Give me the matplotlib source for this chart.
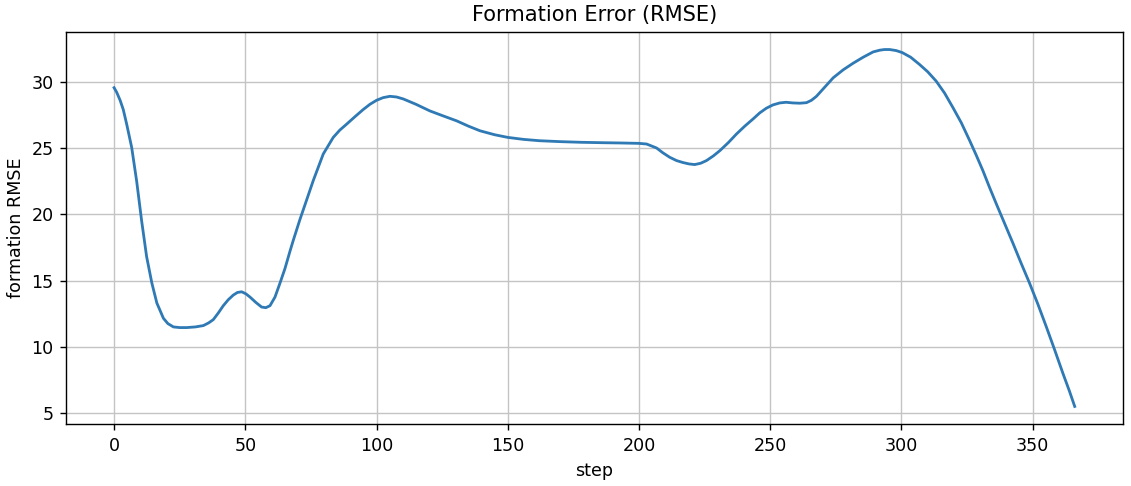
import matplotlib
matplotlib.use("Agg")
import matplotlib.pyplot as plt

steps = [0, 1, 2.3, 3.5, 4.8, 6.7, 8.6, 10.5, 12.4, 14.4, 16.3, 18.8, 20.5, 22.6,
         25, 27.7, 31, 34, 36, 37.8, 39.7, 41.6, 43.5, 45.4, 47, 48.6, 50.2, 51.8,
         54, 56.2, 57.8, 59.4, 61.3, 63.2, 65.1, 67, 68.3, 70.8, 72.1, 75.9, 79.7,
         83.5, 86, 88.6, 91.7, 94.9, 97.5, 100, 102.5, 105.1, 107.6, 110.2, 115,
         120.3, 125, 130.5, 135, 139.4, 145, 150, 156, 162, 170, 178, 186, 192.7,
         200, 202.9, 206.7, 209, 211.7, 214.3, 216.8, 219, 221.2, 223.5, 225.7,
         228.3, 230.8, 234, 237.1, 240.3, 243.5, 246, 248.5, 251, 253.6, 256,
         258.7, 261.3, 263.8, 265.7, 267.6, 270.8, 274, 277.8, 281.6, 285.4,
         289.2, 291.7, 293.5, 295.5, 298, 300.3, 303.5, 306.9, 310, 313.2, 316.4,
         319.6, 322.8, 326, 328.5, 331, 333.5, 336.1, 339.3, 342.5, 345.6, 348.8,
         352, 355.2, 358.3, 361.5, 364, 366]
rmse = [29.55, 29.2, 28.6, 27.9, 26.8, 25.05, 22.5, 19.5, 16.8, 14.8, 13.3, 12.15,
        11.75, 11.5, 11.45, 11.45, 11.5, 11.6, 11.8, 12.05, 12.55, 13.1, 13.55,
        13.9, 14.1, 14.15, 14.0, 13.75, 13.35, 13.0, 12.95, 13.1, 13.75, 14.8,
        15.9, 17.2, 18.05, 19.6, 20.35, 22.55, 24.55, 25.8, 26.35, 26.8, 27.35,
        27.9, 28.3, 28.6, 28.8, 28.9, 28.85, 28.7, 28.3, 27.8, 27.45, 27.05,
        26.65, 26.3, 26.0, 25.8, 25.65, 25.55, 25.48, 25.43, 25.4, 25.38, 25.35,
        25.3, 25.0, 24.65, 24.3, 24.05, 23.9, 23.8, 23.75, 23.85, 24.05, 24.4,
        24.8, 25.4, 26.05, 26.65, 27.2, 27.65, 28.0, 28.25, 28.4, 28.45, 28.4,
        28.38, 28.42, 28.6, 28.9, 29.6, 30.3, 30.9, 31.4, 31.85, 32.25, 32.38,
        32.43, 32.43, 32.35, 32.2, 31.85, 31.3, 30.75, 30.05, 29.15, 28.05,
        26.9, 25.55, 24.45, 23.3, 22.05, 20.8, 19.3, 17.8, 16.3, 14.8, 13.2,
        11.5, 9.8, 8.0, 6.65, 5.5]

title = "Formation Error (RMSE)"
xlabel = "step"
ylabel = "formation RMSE"

DPI = 126
fig = plt.figure(figsize=(1131 / DPI, 486 / DPI), dpi=DPI)
ax = fig.add_axes([0.0584, 0.127, 0.9343, 0.8078])
ax.plot(steps, rmse, color="#2f7ab5", linewidth=1.6)
ax.set_title(title)
ax.set_xlabel(xlabel)
ax.set_ylabel(ylabel)
ax.grid(True, color="#c4c4c4")
fig.savefig("out.png", dpi=DPI)
